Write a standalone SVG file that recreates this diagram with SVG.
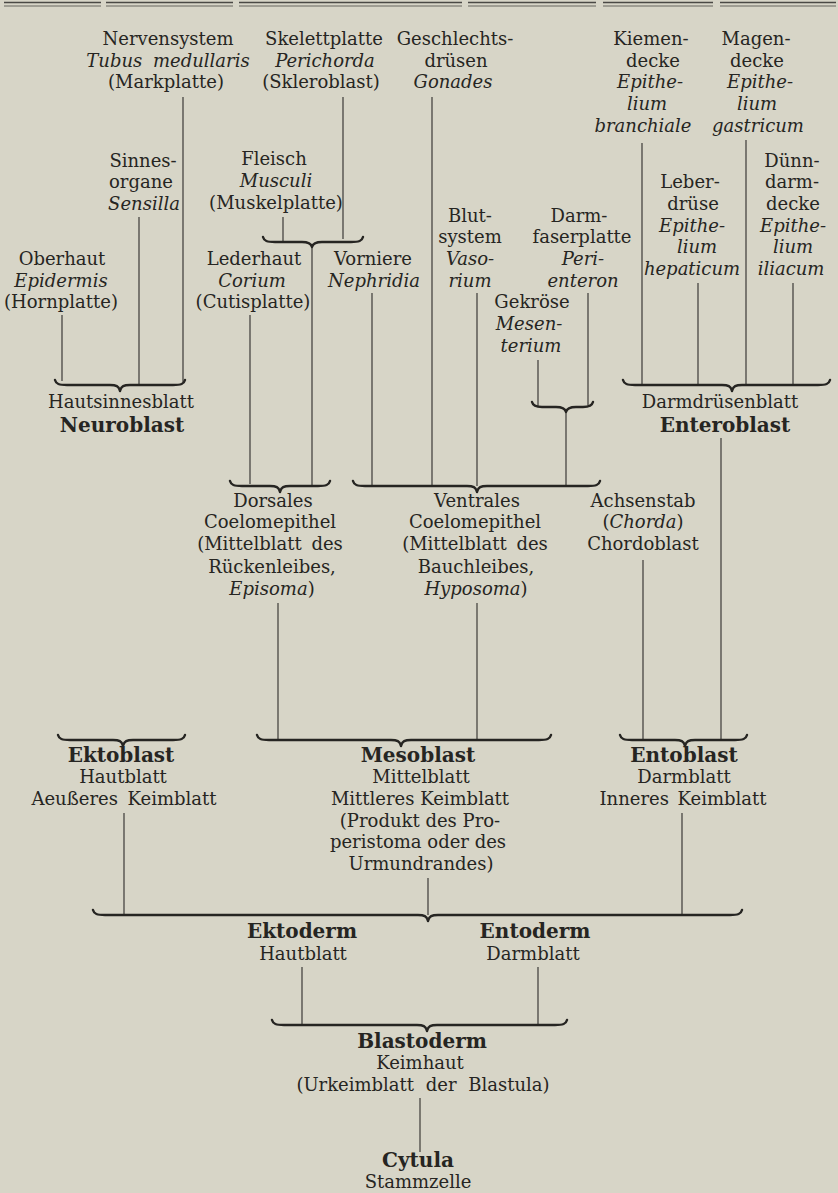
<svg xmlns="http://www.w3.org/2000/svg" width="838" height="1193" viewBox="0 0 838 1193">
<style>
text{font-family:"DejaVu Serif","Liberation Serif",serif;font-size:18px;fill:#262522;text-anchor:middle}
.i{font-style:italic}
.b{font-weight:bold;font-size:20px}
.ln{stroke:#2e2d2a;stroke-width:1.1;fill:none}
.br{stroke:#262522;stroke-width:2.4;fill:none;stroke-linecap:round;stroke-linejoin:round}
.rule{stroke:#4a4945;fill:none}
</style>
<rect width="838" height="1193" fill="#d7d5c7"/>
<g id="rule">
<path class="rule" stroke-width="1.6" d="M4 2.5H101M106 2.5H233M239 2.5H462M468 2.5H596M603 2.5H713M720 2.5H836"/>
<path class="rule" stroke-width="0.8" d="M4 6H101M106 6H233M239 6H462M468 6H596M603 6H713M720 6H836"/>
</g>
<g id="connectors">
<g class="ln">
<path d="M183 97V382M139 217V385M62 315V381"/>
<path d="M283 217V241M343 97V239"/>
<path d="M312 247V486M250 315V484"/>
<path d="M278 603V740"/>
<path d="M372 293V485M432 97V486M477 293V486"/>
<path d="M588 293V405M538 360V407M566 412V486"/>
<path d="M477 603V740"/>
<path d="M642 143V384M746 140V384M698 283V385M793 283V385"/>
<path d="M721 438V740M643 560V740"/>
<path d="M124 813V915M428 878V915M682 813V915"/>
<path d="M302 967V1025M538 967V1025"/>
<path d="M420 1098V1152"/>
</g>
<g class="br">
<path id="brA" d="M55 380C56 384 59 385 67 385L110 385C116 385 119 386 120 391C121 386 124 385 130 385L173 385C181 385 184 384 185 380"/>
<path id="brB" d="M263 237C264 241 267 242 275 242L302 242C308 242 311 243 312 247C313 243 316 242 322 242L351 242C359 242 362 241 363 237"/>
<path id="brC" d="M532 402C533 406 536 407 542 407L556 407C562 407 565 408 566 412C567 408 570 407 576 407L583 407C589 407 592 406 593 402"/>
<path id="brD" d="M623 380C624 384 627 385 635 385L722 385C728 385 731 386 732 391C733 386 736 385 742 385L818 385C826 385 829 384 830 380"/>
<path id="brE" d="M230 481C231 485 234 486 242 486L270 486C276 486 279 487 280 492C281 487 284 486 290 486L318 486C326 486 329 485 330 481"/>
<path id="brF" d="M353 481C354 485 357 486 365 486L467 486C473 486 476 487 477 492C478 487 481 486 487 486L588 486C596 486 599 485 600 481"/>
<path id="brG" d="M58 735C59 739 62 740 70 740L113 740C119 740 122 741 123 746C124 741 127 740 133 740L173 740C181 740 184 739 185 735"/>
<path id="brH" d="M257 735C258 739 261 740 269 740L391 740C397 740 400 741 401 746C402 741 405 740 411 740L539 740C547 740 550 739 551 735"/>
<path id="brI" d="M620 735C621 739 624 740 632 740L675 740C681 740 684 741 685 746C686 741 689 740 695 740L735 740C743 740 746 739 747 735"/>
<path id="brJ" d="M93 910C94 914 97 915 105 915L418 915C424 915 427 916 428 921C429 916 432 915 438 915L730 915C738 915 741 914 742 910"/>
<path id="brK" d="M272 1020C273 1024 276 1025 284 1025L417 1025C423 1025 426 1026 427 1031C428 1026 431 1025 437 1025L555 1025C563 1025 566 1024 567 1020"/>
</g>
</g>
<g id="nervensystem">
<text x="168" y="45">Nervensystem</text>
<text x="168" y="67" class="i" word-spacing="5">Tubus medullaris</text>
<text x="166" y="88">(Markplatte)</text>
</g>
<g id="skelettplatte">
<text x="324" y="45">Skelettplatte</text>
<text x="325" y="67" class="i">Perichorda</text>
<text x="321" y="88">(Skleroblast)</text>
</g>
<g id="geschlechtsdruesen">
<text x="455" y="45">Geschlechts-</text>
<text x="456" y="67">drüsen</text>
<text x="453" y="88" class="i">Gonades</text>
</g>
<g id="kiemendecke">
<text x="651" y="45">Kiemen-</text>
<text x="653" y="67">decke</text>
<text x="650" y="88" class="i">Epithe-</text>
<text x="647" y="110" class="i">lium</text>
<text x="643" y="132" class="i">branchiale</text>
</g>
<g id="magendecke">
<text x="756" y="45">Magen-</text>
<text x="757" y="67">decke</text>
<text x="760" y="88" class="i">Epithe-</text>
<text x="757" y="110" class="i">lium</text>
<text x="758" y="132" class="i">gastricum</text>
</g>
<g id="sinnesorgane">
<text x="143" y="167">Sinnes-</text>
<text x="141" y="188">organe</text>
<text x="144" y="210" class="i">Sensilla</text>
</g>
<g id="fleisch">
<text x="274" y="165">Fleisch</text>
<text x="276" y="187" class="i">Musculi</text>
<text x="276" y="209">(Muskelplatte)</text>
</g>
<g id="duenndarmdecke">
<text x="792" y="167">Dünn-</text>
<text x="792" y="188">darm-</text>
<text x="793" y="210">decke</text>
<text x="793" y="232" class="i">Epithe-</text>
<text x="793" y="253" class="i">lium</text>
<text x="791" y="275" class="i">iliacum</text>
</g>
<g id="leberdruese">
<text x="690" y="188">Leber-</text>
<text x="693" y="210">drüse</text>
<text x="692" y="232" class="i">Epithe-</text>
<text x="697" y="253" class="i">lium</text>
<text x="692" y="275" class="i">hepaticum</text>
</g>
<g id="blutsystem">
<text x="470" y="222">Blut-</text>
<text x="470" y="243">system</text>
<text x="470" y="265" class="i">Vaso-</text>
<text x="470" y="287" class="i">rium</text>
</g>
<g id="darmfaserplatte">
<text x="579" y="222">Darm-</text>
<text x="582" y="243">faserplatte</text>
<text x="583" y="265" class="i">Peri-</text>
<text x="583" y="287" class="i">enteron</text>
</g>
<g id="oberhaut">
<text x="62" y="265">Oberhaut</text>
<text x="61" y="287" class="i">Epidermis</text>
<text x="61" y="308">(Hornplatte)</text>
</g>
<g id="lederhaut">
<text x="254" y="265">Lederhaut</text>
<text x="252" y="287" class="i">Corium</text>
<text x="253" y="308">(Cutisplatte)</text>
</g>
<g id="vorniere">
<text x="373" y="265">Vorniere</text>
<text x="374" y="287" class="i">Nephridia</text>
</g>
<g id="gekroese">
<text x="532" y="308">Gekröse</text>
<text x="529" y="330" class="i">Mesen-</text>
<text x="531" y="352" class="i">terium</text>
</g>
<g id="neuroblast">
<text x="121" y="408">Hautsinnesblatt</text>
<text x="122" y="432" class="b">Neuroblast</text>
</g>
<g id="enteroblast">
<text x="720" y="408">Darmdrüsenblatt</text>
<text x="725" y="432" class="b">Enteroblast</text>
</g>
<g id="dorsales">
<text x="273" y="507">Dorsales</text>
<text x="270" y="528">Coelomepithel</text>
<text x="270" y="550" word-spacing="4">(Mittelblatt des</text>
<text x="272" y="573">Rückenleibes,</text>
<text x="272" y="595"><tspan class="i">Episoma</tspan>)</text>
</g>
<g id="ventrales">
<text x="477" y="507">Ventrales</text>
<text x="475" y="528">Coelomepithel</text>
<text x="475" y="550" word-spacing="4">(Mittelblatt des</text>
<text x="476" y="573">Bauchleibes,</text>
<text x="476" y="595"><tspan class="i">Hyposoma</tspan>)</text>
</g>
<g id="achsenstab">
<text x="643" y="507">Achsenstab</text>
<text x="643" y="528">(<tspan class="i">Chorda</tspan>)</text>
<text x="643" y="550">Chordoblast</text>
</g>
<g id="ektoblast">
<text x="121" y="762" class="b">Ektoblast</text>
<text x="123" y="783">Hautblatt</text>
<text x="124" y="805" word-spacing="4">Aeußeres Keimblatt</text>
</g>
<g id="mesoblast">
<text x="418" y="762" class="b">Mesoblast</text>
<text x="421" y="783">Mittelblatt</text>
<text x="420" y="805">Mittleres Keimblatt</text>
<text x="420" y="827">(Produkt des Pro-</text>
<text x="418" y="848">peristoma oder des</text>
<text x="421" y="870">Urmundrandes)</text>
</g>
<g id="entoblast">
<text x="684" y="762" class="b">Entoblast</text>
<text x="684" y="783">Darmblatt</text>
<text x="683" y="805" word-spacing="3">Inneres Keimblatt</text>
</g>
<g id="ektoderm">
<text x="302" y="938" class="b">Ektoderm</text>
<text x="303" y="960">Hautblatt</text>
</g>
<g id="entoderm">
<text x="535" y="938" class="b">Entoderm</text>
<text x="533" y="960">Darmblatt</text>
</g>
<g id="blastoderm">
<text x="422" y="1048" class="b">Blastoderm</text>
<text x="420" y="1069">Keimhaut</text>
<text x="423" y="1091" word-spacing="6">(Urkeimblatt der Blastula)</text>
</g>
<g id="cytula">
<text x="418" y="1167" class="b">Cytula</text>
<text x="418" y="1188">Stammzelle</text>
</g>
</svg>
